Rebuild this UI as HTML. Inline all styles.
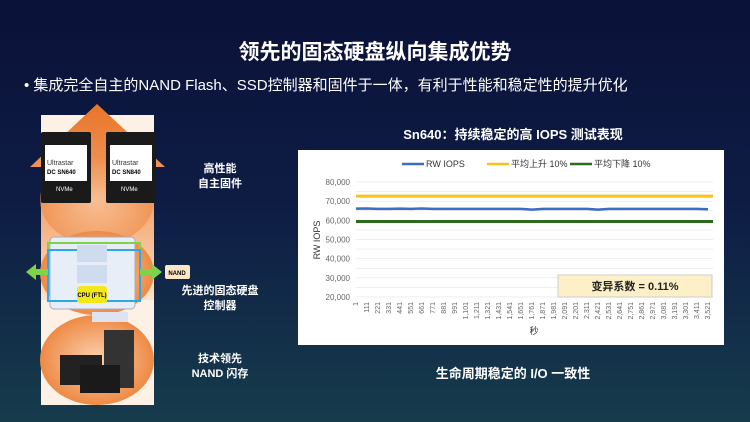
<!DOCTYPE html>
<html><head><meta charset="utf-8"><style>
body{margin:0;width:750px;height:422px;overflow:hidden;font-family:"Liberation Sans","Noto Sans CJK SC",sans-serif;}
#bg{position:absolute;left:0;top:0;width:750px;height:422px;background:linear-gradient(180deg,#0b1138 0%,#0e1d45 50%,#163c4c 100%);}
.t{position:absolute;color:#fff;font-weight:bold;text-align:center;}
</style></head><body>
<div id="bg"></div>
<div class="t" style="left:0;top:36px;width:750px;font-size:21px;">领先的固态硬盘纵向集成优势</div>
<div class="t" style="left:24px;top:74px;font-size:15px;font-weight:normal;text-align:left;">• 集成完全自主的NAND Flash、SSD控制器和固件于一体，有利于性能和稳定性的提升优化</div>

<svg style="position:absolute;left:0;top:0" width="300" height="422">
<defs><linearGradient id="og" x1="0" y1="0" x2="0" y2="1"><stop offset="0" stop-color="#e8742a"/><stop offset="0.5" stop-color="#f4a36a"/><stop offset="1" stop-color="#fbe2cc"/></linearGradient>
<radialGradient id="rg"><stop offset="0" stop-color="#fbd2b0"/><stop offset="1" stop-color="#ee8a45"/></radialGradient></defs>
<rect x="41" y="115" width="113" height="290" fill="#fdf1e6"/>
<polygon points="30,167 97,104 165,167 154,167 154,300 41,300 41,167" fill="url(#og)"/>
<ellipse cx="97" cy="200" rx="57" ry="45" fill="url(#rg)" opacity="0.6"/>
<ellipse cx="97" cy="273" rx="57" ry="42" fill="url(#rg)"/>
<ellipse cx="97" cy="360" rx="57" ry="45" fill="url(#rg)"/>
<rect x="41" y="132" width="50" height="71" rx="2" fill="#1a1a1a"/><rect x="45" y="145" width="42" height="36" fill="#fff"/>
<rect x="106" y="132" width="50" height="71" rx="2" fill="#1a1a1a"/><rect x="110" y="145" width="42" height="36" fill="#fff"/>
<text x="47" y="165" font-size="7" fill="#333">Ultrastar</text><text x="47" y="174" font-size="6" font-weight="bold">DC SN640</text>
<text x="112" y="165" font-size="7" fill="#333">Ultrastar</text><text x="112" y="174" font-size="6" font-weight="bold">DC SN840</text>
<text x="56" y="191" font-size="6" fill="#fff">NVMe</text><text x="121" y="191" font-size="6" fill="#fff">NVMe</text>
<rect x="50" y="237" width="85" height="72" rx="4" fill="#e8eef8" stroke="#aab" />
<rect x="48" y="243" width="92" height="58" fill="none" stroke="#7ed34a" stroke-width="2"/>
<rect x="48" y="250" width="92" height="51" fill="none" stroke="#2aa8e8" stroke-width="2"/>
<rect x="77" y="245" width="30" height="17" fill="#cfdcf0"/><rect x="77" y="265" width="30" height="18" fill="#cfdcf0"/>
<rect x="77" y="286" width="30" height="17" rx="3" fill="#f5e81a"/>
<text x="92" y="297" font-size="6" font-weight="bold" text-anchor="middle">CPU (FTL)</text>
<polygon points="26,272 36,264 36,269 48,269 48,275 36,275 36,280" fill="#7ed34a"/>
<polygon points="162,272 152,264 152,269 140,269 140,275 152,275 152,280" fill="#7ed34a"/>
<rect x="165" y="265" width="25" height="14" rx="2" fill="#fbe6c8"/><text x="177" y="275" font-size="6" font-weight="bold" text-anchor="middle">NAND</text>
<rect x="92" y="312" width="36" height="10" fill="#dde3f0"/>
<rect x="104" y="330" width="30" height="58" fill="#333"/><rect x="60" y="355" width="42" height="30" fill="#222"/><rect x="80" y="365" width="40" height="28" fill="#1a1a1a"/>
</svg>
<div class="t" style="left:180px;top:162px;width:80px;font-size:11px;line-height:15px;">高性能<br>自主固件</div>
<div class="t" style="left:175px;top:284px;width:90px;font-size:11px;line-height:15px;">先进的固态硬盘<br>控制器</div>
<div class="t" style="left:180px;top:352px;width:80px;font-size:11px;line-height:15px;">技术领先<br>NAND 闪存</div>
<div class="t" style="left:298px;top:124px;width:430px;font-size:13px;">Sn640：持续稳定的高 IOPS 测试表现</div>
<div class="t" style="left:298px;top:363px;width:430px;font-size:13px;">生命周期稳定的 I/O 一致性</div>

<svg id="chart" style="position:absolute;left:0;top:0" width="750" height="422"></svg>
<script>
const xLabels=[];for(let v=1;v<=3521;v+=110)xLabels.push(v);
const yTicks=[20000,30000,40000,50000,60000,70000,80000];
const rwIops=[66100,66200,66000,66000,66100,66000,66200,66000,66000,66000,66000,66000,66000,66000,66000,66000,65600,66000,66000,66000,66000,66000,65600,66000,66000,66000,66000,66000,66000,66000,66000,66000,65800];
const upper10=[72600,72600];
const lower10=[59400,59400];
const NS='http://www.w3.org/2000/svg';const svg=document.getElementById('chart');
function mk(t,a,p){const e=document.createElementNS(NS,t);for(const k in a)e.setAttribute(k,a[k]);(p||svg).appendChild(e);return e;}
const x0=356,x1=713,yTop=182,yBot=297;
const ys=v=>yBot-(v-20000)/60000*(yBot-yTop);
const xs=i=>x0+i/(xLabels.length-1)*(x1-x0-5);
const panel=mk('rect',{x:298,y:150,width:426,height:195,fill:'#fff'});

for(let v=20000;v<=80000;v+=5000){const g=mk('line',{x1:x0,x2:x1,y1:ys(v),y2:ys(v),stroke:'#e6e6e6','stroke-width':0.7});}
yTicks.forEach(v=>{const t=mk('text',{x:350,y:ys(v)+3,'font-size':8,fill:'#666','text-anchor':'end'});t.textContent=v.toLocaleString('en-US');});
xLabels.forEach((v,i)=>{const x=xs(i);const t=mk('text',{x:0,y:0,'font-size':7,fill:'#666','text-anchor':'end',transform:`translate(${x+2},302) rotate(-90)`});t.textContent=v.toLocaleString('en-US');});
const yt=mk('text',{x:0,y:0,'font-size':9,fill:'#333','text-anchor':'middle',transform:'translate(320,240) rotate(-90)'});yt.textContent='RW IOPS';
const xt=mk('text',{x:534,y:334,'font-size':9,fill:'#333','text-anchor':'middle'});xt.textContent='秒';
const lu=mk('line',{x1:x0,x2:x1,y1:ys(upper10[0]),y2:ys(upper10[1]),stroke:'#fcc01a','stroke-width':3});
const ll=mk('line',{x1:x0,x2:x1,y1:ys(lower10[0]),y2:ys(lower10[1]),stroke:'#2e6a1e','stroke-width':3});
const pl=mk('polyline',{points:rwIops.map((v,i)=>`${xs(i)},${ys(v)}`).join(' '),fill:'none',stroke:'#3a6cc8','stroke-width':2.5});
const legend=[['RW IOPS','#3a6cc8',402],['平均上升 10%','#fcc01a',487],['平均下降 10%','#2e6a1e',570]];
legend.forEach(([n,c,x])=>{const l=mk('line',{x1:x,x2:x+22,y1:164,y2:164,stroke:c,'stroke-width':2.5});const t=mk('text',{x:x+24,y:167,'font-size':9,fill:'#333'});t.textContent=n;});
const bx=mk('rect',{x:558,y:275,width:154,height:22,fill:'#fdf0c8',stroke:'#ccc'});
const bt=mk('text',{x:635,y:290,'font-size':11,'font-weight':'bold','text-anchor':'middle',fill:'#222'});bt.textContent='变异系数 = 0.11%';
</script>
</body></html>
